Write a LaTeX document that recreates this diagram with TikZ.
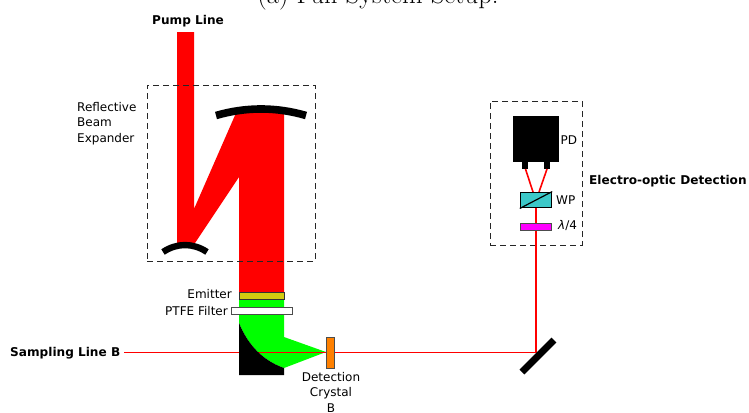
\documentclass[tikz,border=0pt]{standalone}
\usepackage{fontspec}
\setmainfont{DejaVu Sans}
\newfontfamily\titlefont{Latin Modern Roman}
\definecolor{emit}{HTML}{D4CC10}
\definecolor{wpfill}{HTML}{3CC8C8}
\definecolor{crys}{HTML}{FF8000}
\definecolor{qwpfill}{HTML}{FF00FF}
\tikzset{
  lbl/.style={inner sep=0pt,font=\fontsize{12bp}{15.4bp}\selectfont},
  blbl/.style={inner sep=0pt,font=\fontsize{12.1bp}{15bp}\selectfont\bfseries},
  dbox/.style={draw=black!85,line width=1bp,dash pattern=on 6bp off 4bp},
  mirror/.style={draw=black,line cap=butt},
  ray/.style={draw=red,line width=1.6bp},
  optic/.style={draw=black!70,line width=1bp},
}
\begin{document}
\begin{tikzpicture}[x=1bp,y=-1bp]
\useasboundingbox (0,0) rectangle (749,412);
% title, cut by the page edge
\node[inner sep=0pt,anchor=base,font=\titlefont\fontsize{26.7bp}{30bp}\selectfont] (title) at (378,3) {(a) Full System Setup.};
% pump beam
\fill[red] (177,32) -- (194,32) -- (194,209) -- (236,113) -- (284,113) -- (284,292)
  -- (239,292) -- (239,177) -- (195,243) -- (177,243) -- cycle;
% THz beam
\fill[green] (239,299) -- (284,299) -- (284,337) -- (326,352) -- (284,368)
  .. controls (263.3,360.7) and (248.3,345.7) .. (239,323) -- cycle;
% sampling beam
\coordinate (sbstart) at (124,352.5);
\coordinate (bs) at (536,352.5);
\coordinate (crysin) at (326,352.5);
\draw[ray] (sbstart) -- (crysin);
\draw[ray] (crysin) -- (bs);
% parabolic mirror
\fill[black] (239,323) .. controls (248.3,345.7) and (263.3,360.7) .. (284,368) -- (284,375) -- (239,375) -- cycle;
\draw[ray] (259,352.5) -- (crysin);
% expander mirrors
\draw[mirror,line width=7.6bp] (216,115.5) .. controls (246,106.8) and (276,106.8) .. (306,115.5);
\draw[mirror,line width=6.4bp] (163,252) .. controls (177,242.7) and (193,242.7) .. (207,252);
% dashed frames
\node[dbox,minimum width=168bp,minimum height=176bp,inner sep=0pt] (expbox) at (231,173) {};
\node[dbox,minimum width=92bp,minimum height=144bp,inner sep=0pt] (eobox) at (536,173) {};
% emitter, filter, crystal
\node[optic,draw=black!80,fill=emit,minimum width=45bp,minimum height=7bp,inner sep=0pt] (emitter) at (261.5,295.5) {};
\node[optic,fill=white,minimum width=61bp,minimum height=7bp,inner sep=0pt] (ptfe) at (261.5,310.5) {};
\node[optic,fill=crys,minimum width=8bp,minimum height=31bp,inner sep=0pt] (crystal) at (330,352.5) {};
% detection arm
\coordinate (wpb) at (536,208);
\draw[ray] (bs) -- (wpb);
\fill[black] (513,116) rectangle (559,162);
\fill[black] (522,162) rectangle (528,169);
\fill[black] (544,162) rectangle (550,169);
\coordinate (legl) at (525.5,169);
\coordinate (legr) at (547,169);
\coordinate (wpl) at (533,192);
\coordinate (wpr) at (539,192);
\draw[ray] (legl) -- (wpl);
\draw[ray] (legr) -- (wpr);
\node[draw=black,line width=1.4bp,fill=wpfill,minimum width=31bp,minimum height=15.5bp,inner sep=0pt] (wp) at (536,200) {};
\draw[black,line width=1.2bp] (wp.south west) -- (wp.north east);
\node[optic,fill=qwpfill,minimum width=31bp,minimum height=7bp,inner sep=0pt] (qwp) at (536,226.5) {};
% beam splitter mirror
\coordinate (bsa) at (522,372);
\coordinate (bsb) at (554,340);
\draw[mirror,line width=7bp] (bsa) -- (bsb);
% labels
\node[blbl,anchor=west] (pump) at (152,21) {Pump Line};
\node[lbl,anchor=west,align=left] (rbe) at (77,123.5) {Reflective\\Beam\\Expander};
\node[lbl,anchor=east] (emlbl) at (232,294.5) {Emitter};
\node[lbl,anchor=east] (ptfelbl) at (228,311.5) {PTFE Filter};
\node[blbl,anchor=west] (sampl) at (10,353.5) {Sampling Line B};
\node[lbl,align=center,anchor=north] (det) at (331,372) {Detection\\Crystal\\B};
\node[lbl,anchor=west] (pd) at (560.5,140.5) {PD};
\node[lbl,anchor=west] (wpl2) at (556,200) {WP};
\node[lbl,anchor=west] (ql) at (558,225.5) {\textit{λ}/4};
\node[blbl,anchor=west] (eo) at (589,181.5) {Electro-optic Detection};
\end{tikzpicture}
\end{document}
